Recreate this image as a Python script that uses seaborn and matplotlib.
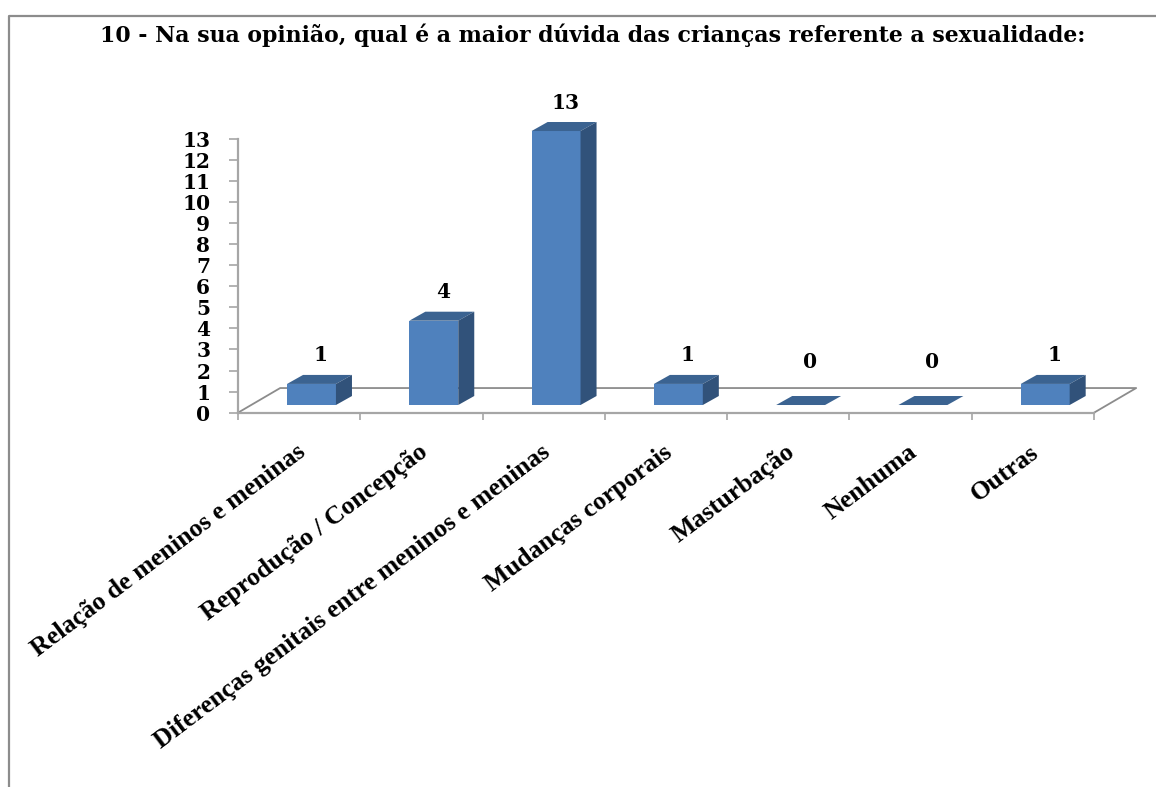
import matplotlib
matplotlib.use('Agg')
import matplotlib.pyplot as plt
from matplotlib.lines import Line2D
from matplotlib.patches import Polygon
import numpy as np
import pandas as pd
import seaborn as sns

title = '10 - Na sua opinião, qual é a maior dúvida das crianças referente a sexualidade:'
categorias = ['Relação de meninos e meninas', 'Reprodução / Concepção',
              'Diferenças genitais entre meninos e meninas', 'Mudanças corporais',
              'Masturbação', 'Nenhuma', 'Outras']
valores = [1, 4, 13, 1, 0, 0, 1]
yticks = list(range(14))

W, H = 1156, 787
sns.set_theme(style='white')
plt.rcParams['font.family'] = ['DejaVu Serif']
plt.rcParams['font.weight'] = 'bold'

fig = plt.figure(figsize=(W / 100, H / 100), dpi=100, facecolor='white')
# area do grafico em pixels da imagem
ax = fig.add_axes([238 / W, 1 - 412.7 / H, (1094 - 238) / W, 274 / H], facecolor='none')

df = pd.DataFrame({'categoria': categorias, 'valor': valores})
base = 0.365   # a frente da barra fica um pouco acima do eixo
sns.barplot(data=df, x='categoria', y='valor', ax=ax, width=0.4, color='#4F81BD',
            saturation=1, bottom=base, errorbar=None, clip_on=False, zorder=3, linewidth=0)

ax.set_xlim(-0.601, 6.399)
ax.set_ylim(0, 13)
ax.set_xlabel('')
ax.set_ylabel('')

# profundidade do efeito 3D, em unidades de dados
dx, dy = 0.131, 0.427
for p, v in zip(ax.patches, valores):
    x0, x1 = p.get_x(), p.get_x() + p.get_width()
    y0, y1 = base, base + v
    ax.add_patch(Polygon([(x0, y1), (x1, y1), (x1 + dx, y1 + dy), (x0 + dx, y1 + dy)],
                         fc='#3B6391', ec='none', clip_on=False, zorder=4))
    ax.add_patch(Polygon([(x1, y0), (x1 + dx, y0 + dy), (x1 + dx, y1 + dy), (x1, y1)],
                         fc='#31527A', ec='none', clip_on=False, zorder=4))
    # os rotulos dos zeros ficam mais altos na figura original
    folga = 0.45 if v > 0 else 1.15
    ax.text(x0 + p.get_width() / 2 + 0.075, y1 + dy + folga, str(v), ha='center',
            va='bottom', fontsize=14.5, color='black', clip_on=False, zorder=5)

# piso
x_a, x_b = ax.get_xlim()
piso = 1.17
piso_dx = 0.345
cinza = '#8C8C8C'
ax.plot([x_a, x_a + piso_dx, x_b + piso_dx, x_b], [0, piso, piso, 0], color=cinza, lw=1.3,
        clip_on=False, zorder=1)

sns.despine(ax=ax, top=True, right=True)
for s in ['left', 'bottom']:
    ax.spines[s].set_color('#A6A6A6')
    ax.spines[s].set_linewidth(1.6)

ax.set_yticks(yticks)
ax.set_yticklabels(yticks, fontsize=14.5, color='black')
ax.tick_params(axis='y', length=6.5, width=1.2, color='#A6A6A6', left=True, pad=13.5)

ax.set_xticks(np.arange(len(categorias)))
ax.set_xticklabels([])
ax.set_xticks(np.arange(len(categorias) + 1) + x_a, minor=True)
ax.tick_params(axis='x', which='minor', length=5, width=1.2, color='#A6A6A6', bottom=True)
ax.tick_params(axis='x', which='major', length=0)

trans = ax.get_xaxis_transform()
for i, c in enumerate(categorias):
    ax.annotate(c, xy=(i, 0), xycoords=trans, xytext=(-11.5, -20), textcoords='offset points',
                rotation=37, rotation_mode='anchor', ha='right', va='top', fontsize=18.7,
                family='Liberation Serif', color='black', annotation_clip=False)

fig.text(592.5 / W, 1 - 35 / H, title, ha='center', va='center', fontsize=15.85, color='black')

# moldura
fig.add_artist(Line2D([9 / W, 9 / W, 1], [0, 1 - 16 / H, 1 - 16 / H], color='#8C8C8C', lw=1.6))

fig.savefig('out.png', dpi=100, facecolor='white')
